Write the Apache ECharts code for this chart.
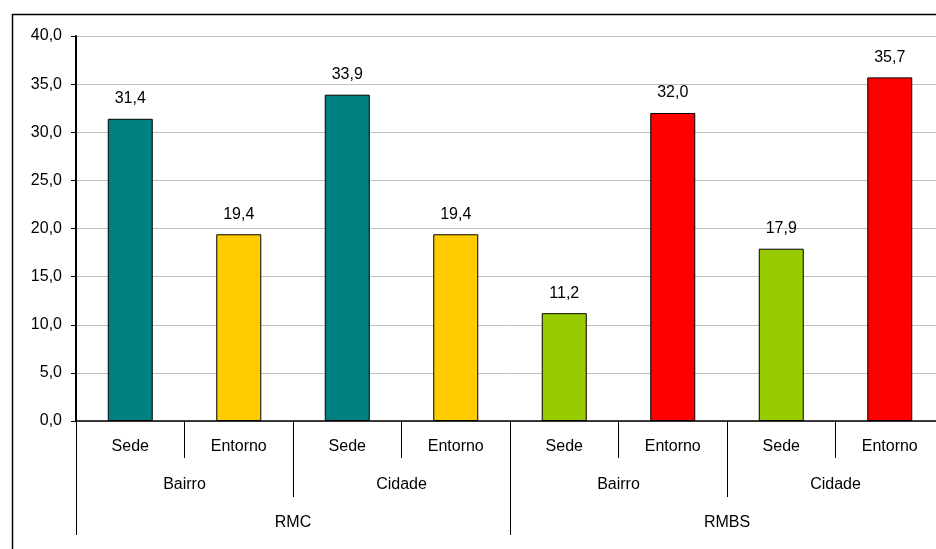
<!DOCTYPE html>
<html>
<head>
<meta charset="utf-8">
<script src="https://cdn.jsdelivr.net/npm/echarts@6/dist/echarts.min.js"></script>
<style>
  html, body { margin: 0; padding: 0; background: #fff; }
  #chart { width: 936px; height: 549px; }
</style>
</head>
<body>
<div id="chart"></div>
<script>
  'use strict';

  // categories, three levels
  var tipos = ['Sede', 'Entorno', 'Sede', 'Entorno', 'Sede', 'Entorno', 'Sede', 'Entorno'];
  var escalas = ['Bairro', 'Cidade', 'Bairro', 'Cidade'];
  var regioes = ['RMC', 'RMBS'];

  // values and bar colours
  var valores = [31.4, 19.4, 33.9, 19.4, 11.2, 32.0, 17.9, 35.7];
  var cores = ['#008080', '#FFCC00', '#008080', '#FFCC00', '#99CC00', '#FF0000', '#99CC00', '#FF0000'];

  var fmt = function(v) {
    return Number(v).toFixed(1).replace('.', ',');
  };

  var font = 'Liberation Sans, Arial, sans-serif';

  function nivelAxis(data, tickLen, margin, showLine) {
    return {
      type: 'category',
      position: 'bottom',
      data: data,
      boundaryGap: true,
      axisLine: { show: showLine, onZero: false, lineStyle: { color: '#000', width: 1.5 } },
      axisTick: { show: true, interval: 0, length: tickLen, lineStyle: { color: '#000', width: 1 } },
      axisLabel: { interval: 0, margin: margin, color: '#000', fontSize: 16, fontFamily: font },
      splitLine: { show: false }
    };
  }

  var chart = echarts.init(document.getElementById('chart'), null, { renderer: 'canvas' });

  chart.setOption({
    animation: false,
    backgroundColor: '#fff',
    // plot runs past the right edge of the picture, as in the original
    grid: { left: 76, width: 868, top: 36, height: 385, containLabel: false, outerBoundsMode: 'none' },
    xAxis: [
      nivelAxis(tipos, 37, 18, true),
      nivelAxis(escalas, 76, 56, false),
      nivelAxis(regioes, 114, 94, false)
    ],
    yAxis: {
      type: 'value',
      min: 0,
      max: 40,
      interval: 5,
      axisLine: { show: true, lineStyle: { color: '#000', width: 2 } },
      axisTick: { show: true, length: 5, lineStyle: { color: '#000' } },
      axisLabel: { color: '#000', fontSize: 16, fontFamily: font, margin: 14, formatter: fmt },
      splitLine: { show: true, lineStyle: { color: '#c0c0c0', width: 1 } }
    },
    series: [{
      type: 'bar',
      xAxisIndex: 0,
      barWidth: 45,
      data: valores.map(function(v, i) {
        return { value: v, itemStyle: { color: cores[i] } };
      }),
      itemStyle: { borderColor: '#000', borderWidth: 1 },
      label: {
        show: true,
        position: 'top',
        distance: 12,
        color: '#000',
        fontSize: 16,
        fontFamily: font,
        formatter: function(p) { return fmt(p.value); }
      }
    }],
    graphic: [{
      type: 'rect',
      left: 10,
      top: 12,
      shape: { width: 960, height: 560 },
      style: { fill: null, stroke: '#000', lineWidth: 1.5 },
      silent: true,
      z: 100
    }]
  });
</script>
</body>
</html>
